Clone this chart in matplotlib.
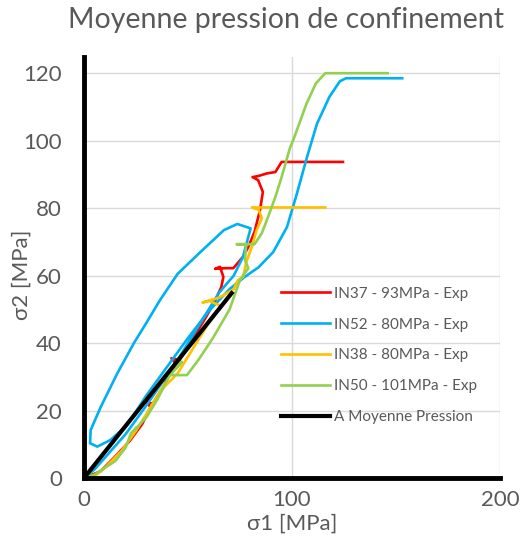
import matplotlib.pyplot as plt

# data (sigma1, sigma2 in MPa)
in37_x = [0, 8, 16, 22, 28, 32, 30, 33, 38, 44, 42, 46, 52, 58, 63, 66, 67, 65.4, 63, 67.8, 71.8,
          76.5, 79, 82, 84.6, 86, 83.7, 81, 83.7, 88, 92, 95, 124.5]
in37_y = [0, 2, 7, 11, 16, 21, 22.5, 22, 27, 34, 35.5, 35, 41, 47, 52.5, 56.6, 59.6, 62.6, 62, 62.2, 62.2,
          65.6, 68.5, 73, 79.4, 84.8, 88.3, 89.2, 89.5, 90.3, 90.7, 93.7, 93.7]

in52_x = [0, 5, 10, 20, 30, 35, 45, 55, 65, 72, 76.4, 80.1, 73.7, 67.3, 56, 45, 36.5, 30, 24, 16, 8, 3.2,
          2.9, 6.4, 12.8, 20.8, 30, 40, 50, 60, 70, 77, 84, 91, 97.6, 102.4, 107.2, 112, 118, 123, 126, 153]
in52_y = [0, 2.5, 6, 13, 21.5, 26, 35, 45, 55, 60, 65.5, 74, 75.3, 73.5, 67, 60.5, 52.7, 46, 40, 31, 21, 14.2,
          10.3, 9.3, 11.3, 15.7, 24.5, 33, 41.5, 49.5, 56, 59.5, 62.5, 67, 74.4, 84.4, 95.1, 105, 113, 117.6, 118.5,
          118.5]

in38_x = [0, 5, 10, 18, 25, 30, 36, 39, 37, 45, 52, 58, 62, 66, 60, 57, 65, 68, 72, 74, 76.5, 78,
          80.7, 83, 85.5, 84, 80.7, 116]
in38_y = [0, 0.5, 3, 8, 14, 19, 25, 28, 26, 31, 38, 44, 48, 51, 52.5, 52, 53.5, 54.5, 56, 58.7, 59.6, 64,
          68.5, 73.5, 77, 79.5, 80.2, 80.2]

in50_x = [0, 5, 10, 15, 20, 22.6, 25.5, 24, 30, 35, 41.3, 47, 41.3, 49.5, 55, 62, 70, 75, 79, 77.4,
          78, 73.5, 82, 85.5, 88.5, 92, 95, 99, 100.5, 107, 111.5, 116, 146]
in50_y = [0, 1, 3, 5, 9, 13.3, 15.1, 14, 18, 23, 30.5, 34.4, 30.5, 30.5, 35, 41.5, 50, 58.7, 62.2, 64.6,
          69.3, 69.3, 69.3, 72.6, 77.4, 83.3, 89.2, 97.8, 100, 111, 117, 120, 120]

moy_x = [0, 71]
moy_y = [0, 54.8]

series = [
    ("IN37 - 93MPa - Exp", in37_x, in37_y, "#FF0000", 1.9),
    ("IN52 - 80MPa - Exp", in52_x, in52_y, "#00B0F0", 1.9),
    ("IN38 - 80MPa - Exp", in38_x, in38_y, "#FFC000", 1.9),
    ("IN50 - 101MPa - Exp", in50_x, in50_y, "#92D050", 1.9),
    ("A Moyenne Pression", moy_x, moy_y, "#000000", 3.0),
]

plt.rcParams['font.family'] = ['Lato', 'DejaVu Sans']
grey = '#595959'

fig = plt.figure(figsize=(5.27, 5.56), dpi=100)
ax = fig.add_axes([84 / 527, 78 / 556, 416 / 527, 421 / 556])

for name, xs, ys, col, lw in series:
    ax.plot(xs, ys, color=col, lw=lw, label=name, solid_joinstyle='round')

ax.set_xlim(0, 200)
ax.set_ylim(0, 124.8)
ax.set_xticks([0, 100, 200])
ax.set_yticks(range(0, 121, 20))
ax.grid(True, color='#D9D9D9', lw=1)
ax.set_axisbelow(True)
ax.tick_params(length=0, labelsize=16, labelcolor=grey)
ax.tick_params(axis='x', pad=9)
ax.tick_params(axis='y', pad=16)

for s in ['top', 'right']:
    ax.spines[s].set_visible(False)
for s in ['left', 'bottom']:
    ax.spines[s].set_linewidth(3.5)
    ax.spines[s].set_color('black')

ax.set_xlabel('σ1 [MPa]', fontsize=16, color=grey, labelpad=2)
ax.set_ylabel('σ2 [MPa]', fontsize=16, color=grey, labelpad=2)
ax.yaxis.set_label_coords(-0.125, 0.482)
fig.text(286 / 527, 1 - 20 / 556, 'Moyenne pression de confinement', fontsize=20.5,
         color=grey, ha='center', va='center')

ax.legend(loc='upper left', bbox_to_anchor=(0.44, 0.487), frameon=False, fontsize=11,
          labelcolor=grey, handlelength=3.2, handletextpad=0.3, labelspacing=1.1)

fig.savefig('out.png', dpi=100)
